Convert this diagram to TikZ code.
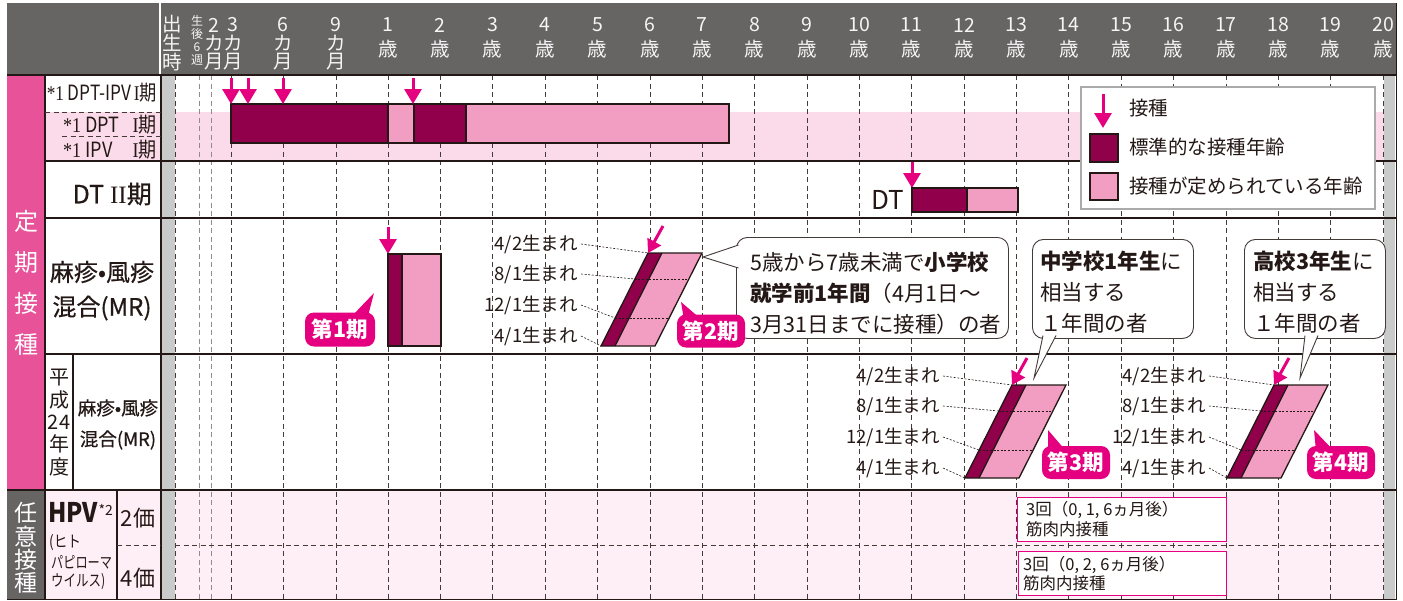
\documentclass[tikz,border=0pt]{standalone}
\usepackage{graphicx}
\usepackage{fontspec}
\setmainfont{Noto Sans CJK JP}
\newfontfamily\sr{Liberation Serif}
\newfontfamily\jpm[FakeBold=0.6]{Noto Sans CJK JP}
\usetikzlibrary{arrows.meta,calc}
\newcommand\myfs[1]{\fontsize{#1pt}{#1pt}\selectfont}
\newcommand\cond[2]{\scalebox{#1}[1]{#2}}
\definecolor{hdr}{RGB}{103,100,100}
\definecolor{strip}{RGB}{201,202,202}
\definecolor{pinkL}{RGB}{251,219,233}
\definecolor{pinkH}{RGB}{253,239,245}
\definecolor{dk}{RGB}{145,0,75}
\definecolor{lt}{RGB}{241,158,194}
\definecolor{mg}{RGB}{228,0,127}
\definecolor{ol}{RGB}{35,24,21}
\definecolor{teiki}{RGB}{232,82,152}
\definecolor{lgbd}{RGB}{170,170,170}
\tikzset{
  hd/.style={text=white!96!black, font=\myfs{19.5}, inner sep=0pt},
  hds/.style={text=white!96!black, font=\myfs{12}, inner sep=0pt},
  gridl/.style={draw=ol!85, line width=0.7pt, dash pattern=on 5pt off 3.5pt},
  gridf/.style={draw=ol!50, line width=0.7pt, dash pattern=on 5pt off 3.5pt},
  rowline/.style={draw=ol, line width=1.1pt},
  dkbar/.style={fill=dk, draw=ol, line width=1.2pt},
  ltbar/.style={fill=lt, draw=ol, line width=1.2pt},
  inj/.style={draw=mg, line width=3pt, -{Triangle[width=17pt,length=15pt]}},
  inj2/.style={draw=mg, line width=3pt, -{Triangle[width=15pt,length=13pt]}},
  pill/.style={fill=mg, text=white, rounded corners=9pt, font=\myfs{21.5}\bfseries, minimum width=68pt, minimum height=33pt, inner sep=0pt},
  callout/.style={draw=ol!85, line width=0.9pt, fill=white, rounded corners=11pt, inner sep=0pt},
  lbl/.style={font=\myfs{18.5}, text=ol, inner sep=0pt},
  ct/.style={font=\myfs{21.5}, text=ol, inner sep=0pt},
  thindash/.style={draw=ol, line width=0.6pt, dash pattern=on 2pt off 1.6pt},
  wt/.style={text=white, font=\myfs{24}, inner sep=0pt},
  lab/.style={text=ol, inner sep=0pt},
}
% period parallelogram: #1 top-left x, #2 top y, #3 label right x, #4 name
\newcommand\period[4]{%
  \fill[dk] (#1,#2) -- (#1+14,#2) -- (#1-33,#2+93) -- (#1-47,#2+93) -- cycle;
  \fill[lt] (#1+14,#2) -- (#1+54,#2) -- (#1+7,#2+93) -- (#1-33,#2+93) -- cycle;
  \draw[thindash] (#1-13.14,#2+26) -- (#1+40.86,#2+26);
  \draw[thindash] (#1-32.85,#2+65) -- (#1+21.15,#2+65);
  \draw[ol, line width=1.3pt] (#1+14,#2) -- (#1-33,#2+93);
  \draw[ol, line width=1.3pt, line join=miter] (#1,#2) -- (#1+54,#2) -- (#1+7,#2+93) -- (#1-47,#2+93) -- cycle;
  \node[lbl, anchor=east] (#4a) at (#3,#2-9) {4/2生まれ};
  \node[lbl, anchor=east] (#4b) at (#3,#2+21) {8/1生まれ};
  \node[lbl, anchor=east] (#4c) at (#3,#2+52) {12/1生まれ};
  \node[lbl, anchor=east] (#4d) at (#3,#2+83) {4/1生まれ};
  \draw[thindash] (#4a.east) ++(3,0) -- (#1,#2);
  \draw[thindash] (#4b.east) ++(3,0) -- (#1-13.14,#2+26);
  \draw[thindash] (#4c.east) ++(3,0) -- (#1-32.85,#2+65);
  \draw[thindash] (#4d.east) ++(3,0) -- (#1-47,#2+93);
  \draw[inj2] (#1+15,#2-27) -- (#1,#2);
}
\begin{document}
\begin{tikzpicture}[x=1pt,y=-1pt]
\useasboundingbox (0,0) rectangle (1403,600);
% backgrounds
\fill[hdr] (7,3) rectangle (1397,75);
\fill[teiki] (7,75) rectangle (45,490);
\fill[hdr] (7,490) rectangle (45,600);
\fill[pinkL] (45,112) rectangle (1384,161);
\fill[pinkH] (45,490) rectangle (1384,600);
\fill[strip] (161,75) rectangle (175,600);
\fill[strip] (1384,75) rectangle (1395,600);
\draw[white, line width=1.5pt] (160,3) -- (160,75);
% grid
\draw[gridl] (175,75) -- (175,600);
\foreach \xx in {199,211} \draw[gridf] (\xx,75) -- (\xx,600);
\foreach \xx in {231,283,336} \draw[gridl] (\xx,75) -- (\xx,600);
\foreach \i in {1,...,20}{\pgfmathsetmacro\xx{388+(\i-1)*52.37}\draw[gridl] (\xx,75) -- (\xx,600);}
% rules
\draw[rowline] (7,75) -- (1397,75);
\foreach \yy in {161,218,354} \draw[rowline] (45,\yy) -- (1397,\yy);
\draw[rowline] (7,490) -- (1397,490);
\draw[rowline] (7,599.4) -- (1397,599.4);
\draw[rowline] (45,75) -- (45,600);
\draw[rowline] (161,75) -- (161,600);
\draw[rowline] (73,354) -- (73,490);
\draw[rowline] (117,490) -- (117,600);
\draw[rowline] (1396.5,3) -- (1396.5,600);
\draw[gridl] (45,112) -- (161,112);
\draw[gridl] (62,136) -- (161,136);
\draw[gridl] (117,545) -- (161,545);
\draw[gridl] (175,545) -- (1384,545);
% header
\node[hd] (hb1) at (172,24) {出};
\node[hd] (hb2) at (172,43) {生};
\node[hd] (hb3) at (172,62) {時};
\node[hds] (hw1) at (197,21) {生};
\node[hds] (hw2) at (197,34) {後};
\node[hds] (hw3) at (197,47) {6};
\node[hds] (hw4) at (197,60) {週};
\foreach \m/\xx in {2/214,3/233,6/283,9/336}{
  \node[hd] (hm\m a) at (\xx,25) {\m};
  \node[hd] (hm\m b) at (\xx,43) {カ};
  \node[hd] (hm\m c) at (\xx,62) {月};
}
\foreach \i in {1,...,20}{
  \pgfmathsetmacro\xx{388+(\i-1)*52.37}
  \node[hd] (hy\i a) at (\xx,25) {\i};
  \node[hd] (hy\i b) at (\xx,49) {歳};
}
% left strips
\node[wt] (tk1) at (26,221) {定};
\node[wt] (tk2) at (26,263) {期};
\node[wt] (tk3) at (26,303) {接};
\node[wt] (tk4) at (26,344) {種};
\node[wt, font=\myfs{23}] (ni1) at (26,513) {任};
\node[wt, font=\myfs{23}] (ni2) at (26,537) {意};
\node[wt, font=\myfs{23}] (ni3) at (26,560) {接};
\node[wt, font=\myfs{23}] (ni4) at (26,583) {種};
% row labels
\node[lab, anchor=east, font=\myfs{21}] (l1) at (157,93) {\cond{0.82}{{\sr *1} DPT-IPV\,{\sr I}期}};
\node[lab, anchor=west, font=\myfs{21}] (l2a) at (63,125) {\cond{0.86}{{\sr *1} DPT}};
\node[lab, anchor=east, font=\myfs{21}] (l2b) at (157,125) {\cond{0.86}{{\sr I}期}};
\node[lab, anchor=west, font=\myfs{21}] (l3a) at (63,150) {\cond{0.86}{{\sr *1} IPV}};
\node[lab, anchor=east, font=\myfs{21}] (l3b) at (157,150) {\cond{0.86}{{\sr I}期}};
\node[lab, anchor=east, font=\jpm\myfs{25}] (l4) at (152,194) {DT\hspace{6pt}{\sr II}期};
\node[lab, font=\jpm\myfs{24}] (l5a) at (102,272) {麻疹•風疹};
\node[lab, font=\jpm\myfs{24}] (l5b) at (102,308) {混合(MR)};
\node[lab, font=\myfs{20}] (l6a) at (59,378) {平};
\node[lab, font=\myfs{20}] (l6b) at (59,400) {成};
\node[lab, font=\myfs{20}] (l6c) at (59,422) {24};
\node[lab, font=\myfs{20}] (l6d) at (59,444) {年};
\node[lab, font=\myfs{20}] (l6e) at (59,467) {度};
\node[lab, font=\jpm\myfs{18.5}] (l7a) at (118,408) {麻疹•風疹};
\node[lab, font=\jpm\myfs{18.5}] (l7b) at (118,440) {混合(MR)};
\node[lab, anchor=west, font=\myfs{27}\bfseries] (hpv) at (48,512) {\cond{0.88}{HPV}};
\node[lab, anchor=west, font=\myfs{14}] (hpvs) at ($(hpv.east)+(0,-2)$) {*2};
\node[lab, anchor=west, font=\myfs{16}] (hpv1) at (49,543) {\cond{0.85}{(ヒト}};
\node[lab, anchor=west, font=\myfs{16}] (hpv2) at (51,562) {\cond{0.76}{パピローマ}};
\node[lab, anchor=west, font=\myfs{16}] (hpv3) at (51,582) {\cond{0.78}{ウイルス)}};
\node[lab, font=\myfs{22}] (v2) at (138,518) {2価};
\node[lab, font=\myfs{22}] (v4) at (138,578) {4価};
% DPT-IPV
\filldraw[dkbar] (231,104) rectangle (388,143);
\filldraw[ltbar] (388,104) rectangle (414,143);
\filldraw[dkbar] (414,104) rectangle (466,143);
\filldraw[ltbar] (466,104) rectangle (729,143);
\foreach \xx in {231,248,283,413} \draw[inj] (\xx,78) -- (\xx,104);
% DT
\draw[inj] (912,162) -- (912,188);
\filldraw[dkbar] (912,188) rectangle (967,212);
\filldraw[ltbar] (967,188) rectangle (1018,212);
\node[lab, font=\myfs{26}] (dtl) at (888,200) {DT};
% legend
\node[draw=lgbd, line width=1.5pt, fill=white, minimum width=294pt, minimum height=122pt, anchor=north west, inner sep=0pt] (leg) at (1080,86) {};
\draw[inj] (1103,94) -- (1103,128);
\filldraw[dkbar] (1090,134) rectangle (1118,162);
\filldraw[ltbar] (1090,173) rectangle (1118,200);
\node[lab, anchor=west, font=\myfs{19.5}] (lg1) at (1129,108) {接種};
\node[lab, anchor=west, font=\myfs{19.5}] (lg2) at (1129,147) {標準的な接種年齢};
\node[lab, anchor=west, font=\myfs{19.5}] (lg3) at (1129,186) {接種が定められている年齢};
% MR period 1
\draw[inj] (388,227) -- (388,254);
\filldraw[dkbar] (388,254) rectangle (402,346);
\filldraw[ltbar] (402,254) rectangle (441,346);
\fill[mg] (352,316) -- (374,293) -- (368,316) -- cycle;
\node[pill, minimum width=70pt, minimum height=34pt] (p1) at (340,329.5) {第1期};
% period 2
\period{648}{253}{578}{q2}
% callout 1
\node[callout, minimum width=272pt, minimum height=101pt, anchor=north west] (c1) at (736,237) {};
\draw[draw=ol!85, line width=0.9pt, fill=white] (738.5,245) -- (703,257) -- (738.5,268);
\node[ct, anchor=west] (c1a) at (750,262) {5歳から7歳未満で{\bfseries 小学校}};
\node[ct, anchor=west] (c1b) at (750,293) {{\bfseries 就学前1年間}（4月1日～};
\node[ct, anchor=west] (c1c) at (750,324) {3月31日までに接種）の者};
\fill[mg] (684,320) -- (681,302) -- (702,320) -- cycle;
\node[pill] (p2) at (711,331) {第2期};
% callout 2
\node[callout, minimum width=161pt, minimum height=99pt, anchor=north west] (c2) at (1032,239) {};
\draw[draw=ol!85, line width=0.9pt, fill=white] (1043,335.5) -- (1034,378) -- (1056,335.5);
\node[ct, anchor=west] (c2a) at (1040,261) {{\bfseries 中学校1年生}に};
\node[ct, anchor=west] (c2b) at (1040,292) {相当する};
\node[ct, anchor=west] (c2c) at (1040,323) {１年間の者};
% callout 3
\node[callout, minimum width=141pt, minimum height=99pt, anchor=north west] (c3) at (1244,239) {};
\draw[draw=ol!85, line width=0.9pt, fill=white] (1305,335.5) -- (1300,378) -- (1318,335.5);
\node[ct, anchor=west] (c3a) at (1253,261) {{\bfseries 高校3年生}に};
\node[ct, anchor=west] (c3b) at (1253,292) {相当する};
\node[ct, anchor=west] (c3c) at (1253,323) {１年間の者};
% period 3, 4
\period{1012}{385}{940}{q3}
\fill[mg] (1048,451) -- (1048,430) -- (1066,451) -- cycle;
\node[pill] (p3) at (1076,462.5) {第3期};
\period{1274}{385}{1206}{q4}
\fill[mg] (1316,451) -- (1314,430) -- (1334,451) -- cycle;
\node[pill] (p4) at (1341,462.5) {第4期};
% HPV boxes
\node[draw=mg, line width=1.3pt, fill=white, minimum width=209pt, minimum height=44pt, anchor=north west, inner sep=0pt] (hb) at (1017,497) {};
\node[lab, anchor=west, font=\myfs{16.5}] (hba) at (1026,510) {3回（0, 1, 6ヵ月後）};
\node[lab, anchor=west, font=\myfs{16.5}] (hbb) at (1026,529) {筋肉内接種};
\node[draw=mg, line width=1.3pt, fill=white, minimum width=208pt, minimum height=44pt, anchor=north west, inner sep=0pt] (hc) at (1018,551) {};
\node[lab, anchor=west, font=\myfs{16.5}] (hca) at (1023,565) {3回（0, 2, 6ヵ月後）};
\node[lab, anchor=west, font=\myfs{16.5}] (hcb) at (1023,583) {筋肉内接種};
\end{tikzpicture}
\end{document}
